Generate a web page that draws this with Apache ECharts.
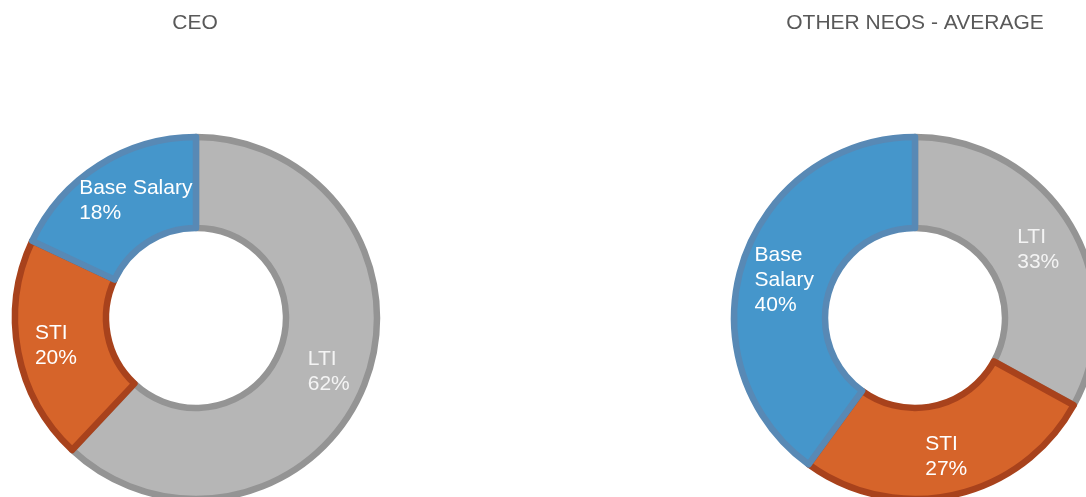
<!DOCTYPE html>
<html>
<head>
<meta charset="utf-8">
<script src="https://cdn.jsdelivr.net/npm/echarts@6/dist/echarts.min.js"></script>
<style>
html,body{margin:0;padding:0;background:#fff;}
#chart{width:1086px;height:497px;}
</style>
</head>
<body>
<div id="chart"></div>
<script>
const titles = ['CEO', 'OTHER NEOS - AVERAGE'];
const categories = ['LTI', 'STI', 'Base Salary'];
const ceoValues = [62, 20, 18];
const neoValues = [33, 27, 40];
const neoLabelNames = ['LTI', 'STI', 'Base\nSalary'];

const fills = { 'LTI': '#B6B6B6', 'STI': '#D6642A', 'Base Salary': '#4596CB' };
const borders = { 'LTI': '#949494', 'STI': '#A8421C', 'Base Salary': '#5889B5' };
const textColors = { 'LTI': '#F4F4F4', 'STI': '#FFFFFF', 'Base Salary': '#FFFFFF' };
const ceoOffsets = [[4, 3], [-4, 2], [14, 0]];
const neoOffsets = [[4, 2], [1, 4], [1, 5]];

function makeData(values, names, offsets) {
  return categories.map((c, i) => ({
    name: c,
    value: values[i],
    itemStyle: { color: fills[c], borderColor: borders[c], borderWidth: 6.5 },
    label: {
      offset: offsets[i],
      formatter: names[i].split('\n').map(s => '{t|' + s + '}').join('\n') + '\n{t|' + values[i] + '%}',
      rich: { t: { align: 'left', color: textColors[c], fontSize: 21, lineHeight: 25, fontFamily: 'Liberation Sans, Arial, sans-serif' } }
    }
  }));
}

const chart = echarts.init(document.getElementById('chart'), null, { renderer: 'canvas' });
const baseSeries = {
  type: 'pie',
  radius: [90, 181],
  startAngle: 90,
  clockwise: true,
  avoidLabelOverlap: false,
  silent: true,
  animation: false,
  label: { show: true, position: 'inside' },
  labelLine: { show: false },
  emphasis: { disabled: true }
};
const titleStyle = { color: '#595959', fontSize: 21, fontWeight: 'normal', fontFamily: 'Liberation Sans, Arial, sans-serif' };
chart.setOption({
  backgroundColor: '#ffffff',
  title: [
    { text: titles[0], left: 190, top: 8, textAlign: 'center', textStyle: titleStyle },
    { text: titles[1], left: 910, top: 8, textAlign: 'center', textStyle: titleStyle }
  ],
  series: [
    Object.assign({}, baseSeries, { center: [196, 318], data: makeData(ceoValues, categories, ceoOffsets) }),
    Object.assign({}, baseSeries, { center: [915, 318], data: makeData(neoValues, neoLabelNames, neoOffsets) })
  ]
});
</script>
</body>
</html>
